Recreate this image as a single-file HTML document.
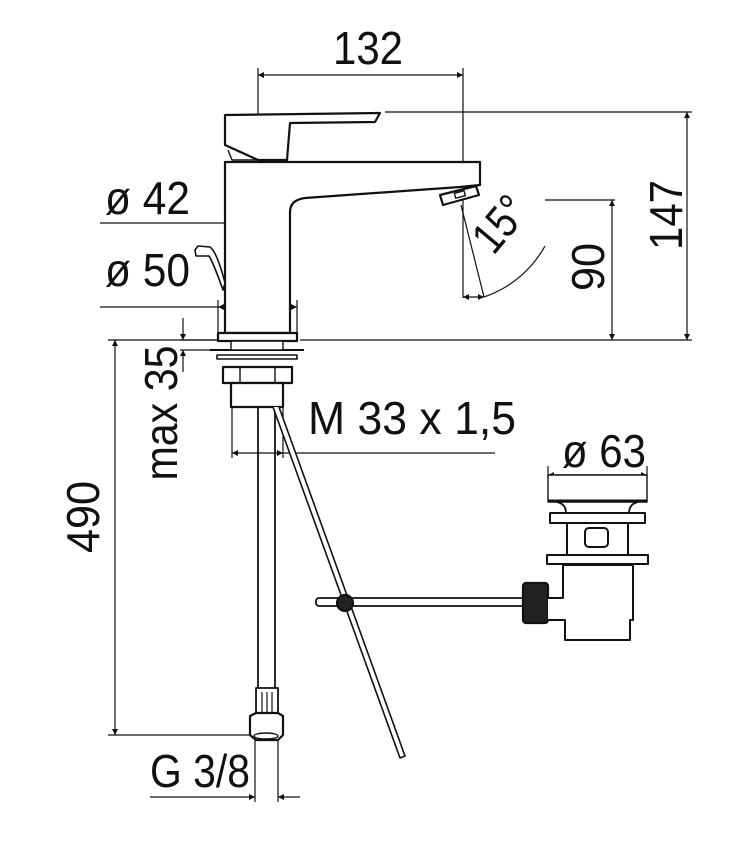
<!DOCTYPE html>
<html><head><meta charset="utf-8"><style>
html,body{margin:0;padding:0;background:#fff;}
svg{display:block;}
text{font-family:"Liberation Sans",sans-serif;fill:#111;}
</style></head><body>
<svg width="752" height="853" viewBox="0 0 752 853" xmlns="http://www.w3.org/2000/svg">
<defs>
<marker id="a" viewBox="0 0 10 10" refX="10" refY="5" markerWidth="9" markerHeight="6" orient="auto-start-reverse" markerUnits="userSpaceOnUse"><path d="M0,0 L10,5 L0,10 z" fill="#111"/></marker>
</defs>
<g stroke="#111" stroke-width="1.2" fill="none">
<line x1="258" y1="75" x2="463" y2="75" marker-start="url(#a)" marker-end="url(#a)"/>
<line x1="258" y1="68" x2="258" y2="285"/>
<line x1="258" y1="315" x2="258" y2="345"/>
<line x1="463" y1="68" x2="463" y2="298"/>
<line x1="385" y1="112" x2="692" y2="112"/>
<line x1="687" y1="112" x2="687" y2="340" marker-start="url(#a)" marker-end="url(#a)"/>
<line x1="300" y1="340" x2="692" y2="340"/>
<line x1="545" y1="200" x2="615" y2="200"/>
<line x1="612" y1="200" x2="612" y2="340" marker-start="url(#a)" marker-end="url(#a)"/>
<line x1="461" y1="205" x2="484" y2="297"/>
<path d="M484,297 A110,110 0 0 0 545,246"/>
<line x1="463" y1="297" x2="484" y2="297" marker-start="url(#a)" marker-end="url(#a)"/>
<line x1="100" y1="223" x2="225" y2="223"/>
<line x1="225" y1="223" x2="290" y2="223" marker-start="url(#a)" marker-end="url(#a)"/>
<line x1="100" y1="307" x2="218" y2="307"/>
<line x1="218" y1="307" x2="297" y2="307" marker-start="url(#a)" marker-end="url(#a)"/>
<line x1="218" y1="300" x2="218" y2="333"/>
<line x1="297" y1="300" x2="297" y2="333"/>
<line x1="180" y1="340" x2="218" y2="340"/>
<line x1="180" y1="350" x2="230" y2="350"/>
<line x1="183" y1="318" x2="183" y2="340" marker-end="url(#a)"/>
<line x1="183" y1="372" x2="183" y2="350" marker-end="url(#a)"/>
<line x1="108" y1="340" x2="218" y2="340"/>
<line x1="108" y1="735" x2="255" y2="735"/>
<line x1="115" y1="340" x2="115" y2="735" marker-start="url(#a)" marker-end="url(#a)"/>
<line x1="232" y1="407" x2="232" y2="458"/>
<line x1="283" y1="407" x2="283" y2="458"/>
<line x1="232" y1="453" x2="283" y2="453" marker-start="url(#a)" marker-end="url(#a)"/>
<line x1="283" y1="453" x2="495" y2="453"/>
<line x1="255" y1="738" x2="255" y2="802"/>
<line x1="278" y1="738" x2="278" y2="802"/>
<line x1="150" y1="797" x2="255" y2="797" marker-end="url(#a)"/>
<line x1="300" y1="797" x2="278" y2="797" marker-end="url(#a)"/>
<line x1="548" y1="466" x2="548" y2="478"/>
<line x1="647" y1="466" x2="647" y2="478"/>
<line x1="548" y1="475" x2="647" y2="475" marker-start="url(#a)" marker-end="url(#a)"/>
</g>
<g stroke="#111" stroke-width="2.2" fill="#fff" stroke-linejoin="round">
<path d="M225,333 L225,162 L480,162 L480,185 L460,187 L305,198 Q290,200 290,212 L290,333 Z"/>
<path d="M225,115 L380,113 L375,122 L290,123 L287,160 L258,160 L225,145 Z"/>
<path d="M228,150 L232,160 L258,160" fill="none" stroke-width="1.4"/>
<path d="M440,195 L476,186 L479,195 L443,205 Z"/>
<rect x="455" y="192" width="10" height="5" transform="rotate(-15 460 195)" stroke-width="1.4"/>
<path d="M195,250 L198,246 L210,247 Q217,252 225,283 L223,290 Q213,262 209,256 L196,256 Z" stroke-width="1.6"/>
<rect x="218" y="333" width="79" height="8"/>
<rect x="217" y="355" width="80" height="4" stroke-width="1.6"/>
<line x1="210" y1="350" x2="304" y2="350" stroke-width="2"/>
<rect x="231" y="341" width="52" height="9" stroke-width="1.4"/>
<rect x="223" y="367" width="69" height="16"/>
<line x1="240" y1="367" x2="240" y2="383" stroke-width="1.4"/>
<line x1="275" y1="367" x2="275" y2="383" stroke-width="1.4"/>
<rect x="231" y="383" width="52" height="24"/>
<line x1="258" y1="407" x2="258" y2="688" stroke-width="1.8"/>
<line x1="275" y1="407" x2="275" y2="688" stroke-width="1.8"/>
<rect x="256" y="688" width="22" height="25" stroke-width="1.8"/>
<line x1="262" y1="692" x2="262" y2="712" stroke-width="1.2"/>
<line x1="267" y1="692" x2="267" y2="712" stroke-width="1.2"/>
<line x1="272" y1="692" x2="272" y2="712" stroke-width="1.2"/>
<path d="M250,716 L256,713 L278,713 L283,716 L283,735 L278,740 L256,740 L250,735 Z"/>
<ellipse cx="266" cy="736" rx="12" ry="3" fill="none" stroke-width="1.4"/>
<path d="M273,407 L400,758 L405,756 L279,407" fill="#fff" stroke-width="1.6"/>
<rect x="316" y="598" width="208" height="8" rx="3" stroke-width="1.8"/>
<circle cx="345" cy="603" r="8" fill="#222"/>
<rect x="523" y="583" width="25" height="40" rx="3" fill="#222"/>
<path d="M548,598 L563,598 L563,565 L633,565 L633,620 L630,620 L630,640 L565,640 L565,620 L548,620" stroke-width="2"/>
<rect x="547" y="555" width="101" height="9" stroke-width="2"/>
<rect x="567" y="523" width="61" height="32" stroke-width="2"/>
<rect x="585" y="528" width="23" height="19" rx="4" stroke-width="2"/>
<rect x="550" y="513" width="95" height="10" stroke-width="2"/>
<path d="M557,502 Q566,504 566,513 M638,502 Q629,504 629,513" fill="none" stroke-width="1.8"/>
<rect x="548" y="475" width="99" height="27" stroke-width="1.4"/>
<line x1="548" y1="501" x2="647" y2="501" stroke-width="3"/>
</g>
<g font-size="46">
<text x="368" y="64" text-anchor="middle" textLength="70" lengthAdjust="spacingAndGlyphs">132</text>
<text x="105" y="214" textLength="85" lengthAdjust="spacingAndGlyphs">ø 42</text>
<text x="105" y="286" textLength="85" lengthAdjust="spacingAndGlyphs">ø 50</text>
<text x="308" y="434" textLength="208" lengthAdjust="spacingAndGlyphs">M 33 x 1,5</text>
<text x="562" y="467" textLength="84" lengthAdjust="spacingAndGlyphs">ø 63</text>
<text x="150" y="787" textLength="100" lengthAdjust="spacingAndGlyphs">G 3/8</text>
<text transform="translate(682,215) rotate(-90)" text-anchor="middle" textLength="70" lengthAdjust="spacingAndGlyphs">147</text>
<text transform="translate(604,267) rotate(-90)" text-anchor="middle" textLength="48" lengthAdjust="spacingAndGlyphs">90</text>
<text transform="translate(99,517) rotate(-90)" text-anchor="middle" textLength="72" lengthAdjust="spacingAndGlyphs">490</text>
<text transform="translate(177,413) rotate(-90)" text-anchor="middle" textLength="135" lengthAdjust="spacingAndGlyphs">max 35</text>
<text transform="translate(512,234) rotate(-50)" text-anchor="middle" textLength="58" lengthAdjust="spacingAndGlyphs">15°</text>
</g>
</svg>
</body></html>
